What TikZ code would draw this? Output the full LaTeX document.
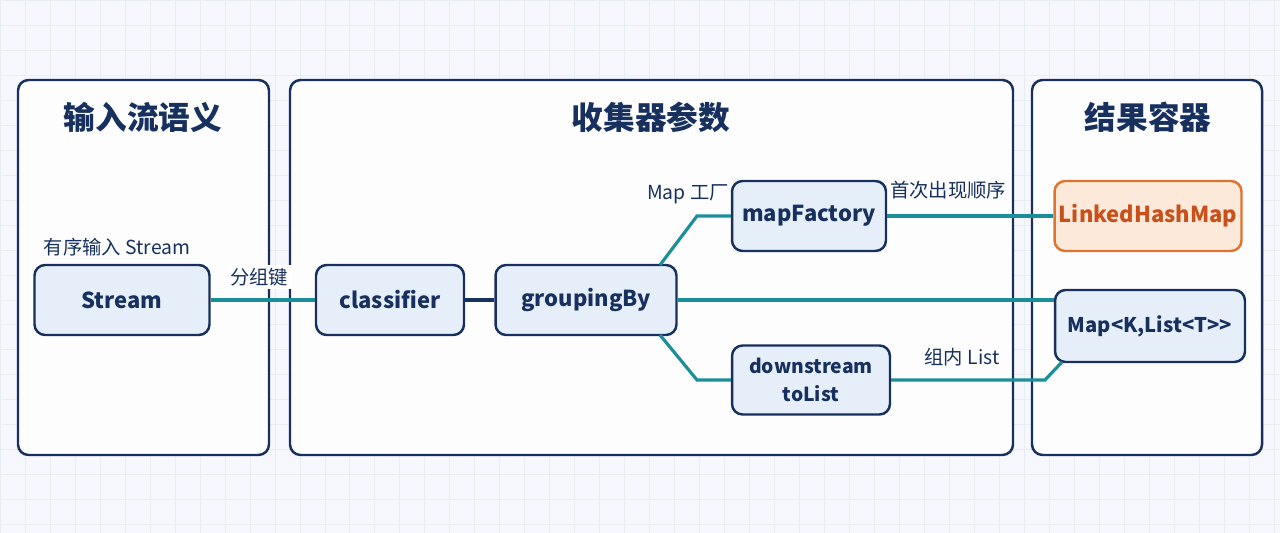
\documentclass[tikz,border=0pt]{standalone}
\usepackage{fontspec}
\setmainfont{Noto Sans CJK SC}
\begin{document}
\begin{tikzpicture}[x=0.02cm,y=-0.02cm,
  panel/.style={draw=navy,line width=1.4pt,rounded corners=6pt},
  box/.style={draw=navy,line width=1.4pt,fill=boxfill,rounded corners=6pt,align=center,font=\fontsize{12.5}{15}\selectfont\bfseries,text=navy,inner sep=0pt},
  ttl/.style={font=\fontsize{18}{20}\selectfont\bfseries,text=navy},
  lbl/.style={font=\fontsize{11}{12}\selectfont,text=navy},
  conn/.style={draw=teal2,line width=1.8pt}]
\definecolor{navy}{HTML}{17305E}
\definecolor{boxfill}{HTML}{E6EEFA}
\definecolor{teal2}{HTML}{1A8F99}
\definecolor{gridc}{HTML}{E8EDF3}
\definecolor{ofill}{HTML}{FCE9DA}
\definecolor{oline}{HTML}{E0732E}
\definecolor{otext}{HTML}{C8501A}
\fill[white!97!blue] (0,0) rectangle (1280,533);
\useasboundingbox (0,0) rectangle (1280,533);
\draw[gridc,line width=0.5pt,step=0.5cm] (0,0) grid (1280,533);
% panels
\draw[panel,fill=white!90!gridc] (18,80) rectangle (269,455);
\draw[panel,fill=white!90!gridc] (290,80) rectangle (1013,455);
\draw[panel,fill=white!90!gridc] (1032,80) rectangle (1262,455);
\node[ttl] (t1) at (143,117) {输入流语义};
\node[ttl] (t2) at (651,117) {收集器参数};
\node[ttl] (t3) at (1148,117) {结果容器};
% nodes
\node[box,minimum width=3.5cm,minimum height=1.4cm] (stream) at (122,300) {Stream};
\node[box,minimum width=2.96cm,minimum height=1.4cm] (cls) at (390,300) {classifier};
\node[box,minimum width=3.62cm,minimum height=1.4cm] (grp) at (586,300) {groupingBy};
\node[box,minimum width=3.08cm,minimum height=1.4cm] (mf) at (809,216) {mapFactory};
\node[box,minimum width=3.16cm,minimum height=1.38cm,font=\fontsize{11}{16}\selectfont\bfseries] (ds) at (811,380) {downstream\\toList};
\node[box,draw=oline,fill=ofill,text=otext,minimum width=3.74cm,minimum height=1.4cm] (lhm) at (1148,216) {LinkedHashMap};
\node[box,minimum width=3.8cm,minimum height=1.44cm,font=\fontsize{11.5}{14}\selectfont\bfseries] (mp) at (1150,326) {Map<K,List<T>{}>};
% connectors
\coordinate (g1) at (660,265);
\coordinate (g1b) at (697,216);
\coordinate (g2) at (660,335);
\coordinate (g2b) at (697,380);
\coordinate (d1) at (1045,380);
\coordinate (d2) at (1062,362);
\draw[conn] (stream.east) -- (cls.west);
\draw[navy,line width=1.8pt] (cls.east) -- (grp.west);
\draw[conn] (g1) -- (g1b) -- (mf.west);
\draw[conn] (g2) -- (g2b) -- (ds.west);
\draw[conn] (grp.east) -- (grp.east -| mp.west);
\draw[conn] (mf.east) -- (lhm.west);
\draw[conn] (ds.east) -- (d1) -- (d2);
% labels
\node[lbl] (l1) at (117,247) {有序输入 Stream};
\node[lbl,fill=white,inner sep=2pt] (l2) at (259,277) {分组键};
\node[lbl] (l3) at (688,194) {Map 工厂};
\node[lbl] (l4) at (948,190) {首次出现顺序};
\node[lbl] (l5) at (962,357) {组内 List};
\end{tikzpicture}
\end{document}
